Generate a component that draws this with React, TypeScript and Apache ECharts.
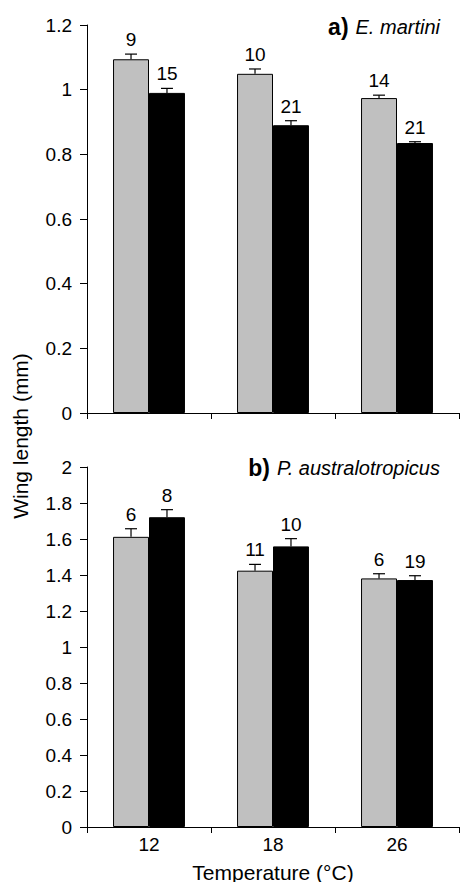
import React, { useEffect, useRef } from "react";
import * as echarts from "echarts";

const categories = ["12", "18", "26"];

// a) E. martini
const aGrey = [1.094, 1.049, 0.974];
const aGreyErr = [0.016, 0.015, 0.009];
const aGreyN = [9, 10, 14];
const aBlack = [0.99, 0.89, 0.835];
const aBlackErr = [0.014, 0.014, 0.004];
const aBlackN = [15, 21, 21];

// b) P. australotropicus
const bGrey = [1.612, 1.424, 1.381];
const bGreyErr = [0.045, 0.035, 0.026];
const bGreyN = [6, 11, 6];
const bBlack = [1.721, 1.559, 1.372];
const bBlackErr = [0.042, 0.043, 0.024];
const bBlackN = [8, 10, 19];

const yTicksA = { min: 0, max: 1.2, interval: 0.2 };
const yTicksB = { min: 0, max: 2, interval: 0.2 };

const FONT = "Liberation Sans, Arial, sans-serif";
const BAR_FRAC = 0.29;

function errData(vals: number[], errs: number[], ns: number[]) {
  return vals.map((v, i) => [i, v, v + errs[i], ns[i]]);
}

function errSeries(gridIdx: number, side: number, vals: number[], errs: number[], ns: number[]) {
  return {
    type: "custom",
    xAxisIndex: gridIdx,
    yAxisIndex: gridIdx,
    z: 10,
    encode: { x: 0, y: 2 },
    data: errData(vals, errs, ns),
    renderItem: (params: any, api: any) => {
      const cat = api.value(0);
      const base = api.coord([cat, api.value(1)]);
      const top = api.coord([cat, api.value(2)]);
      const bw = api.size([1, 0])[0] * BAR_FRAC;
      const x = base[0] + (side * bw) / 2;
      const cap = 6;
      return {
        type: "group",
        children: [
          {
            type: "line",
            shape: { x1: x, y1: base[1], x2: x, y2: top[1] },
            style: { stroke: "#000", lineWidth: 1.2 },
          },
          {
            type: "line",
            shape: { x1: x - cap, y1: top[1], x2: x + cap, y2: top[1] },
            style: { stroke: "#000", lineWidth: 1.2 },
          },
          {
            type: "text",
            x: x,
            y: top[1] - 5,
            style: {
              text: String(api.value(3)),
              fontFamily: FONT,
              fontSize: 19,
              fill: "#000",
              align: "center",
              verticalAlign: "bottom",
            },
          },
        ],
      };
    },
  };
}

function barSeries(gridIdx: number, vals: number[], color: string) {
  return {
    type: "bar",
    xAxisIndex: gridIdx,
    yAxisIndex: gridIdx,
    data: vals,
    barWidth: BAR_FRAC * 100 + "%",
    barGap: "0%",
    itemStyle: { color, borderColor: "#000", borderWidth: 1 },
  };
}

export default function App() {
  const ref = useRef<HTMLDivElement>(null);
  useEffect(() => {
    if (!ref.current) return;
    const chart = echarts.init(ref.current, null, { renderer: "svg" });
    const xAxisBase = {
      type: "category",
      data: categories,
      boundaryGap: true,
      axisLine: { show: true, lineStyle: { color: "#000", width: 1 } },
      axisTick: { show: true, length: 6, alignWithLabel: false, lineStyle: { color: "#000" } },
      splitLine: { show: false },
    };
    const yAxisBase = {
      type: "value",
      axisLine: { show: true, lineStyle: { color: "#000", width: 1 } },
      axisTick: { show: true, length: 7, lineStyle: { color: "#000" } },
      splitLine: { show: false },
      axisLabel: { fontFamily: FONT, fontSize: 19, color: "#000", margin: 15 },
    };
    const titleRich = {
      b: { fontFamily: FONT, fontSize: 23, fontWeight: "bold", fill: "#000" },
      i: { fontFamily: FONT, fontSize: 20, fontStyle: "italic", fill: "#000", padding: [0, 0, 0, 7] },
    };
    chart.setOption({
      animation: false,
      backgroundColor: "#fff",
      grid: [
        { left: 87, right: 2, top: 25, height: 388 },
        { left: 87, right: 2, top: 467, height: 360 },
      ],
      xAxis: [
        { ...xAxisBase, gridIndex: 0, axisLabel: { show: false } },
        {
          ...xAxisBase,
          gridIndex: 1,
          axisLabel: { show: true, fontFamily: FONT, fontSize: 19, color: "#000", margin: 8 },
        },
      ],
      yAxis: [
        { ...yAxisBase, gridIndex: 0, ...yTicksA },
        { ...yAxisBase, gridIndex: 1, ...yTicksB },
      ],
      series: [
        barSeries(0, aGrey, "#c0c0c0"),
        barSeries(0, aBlack, "#000000"),
        errSeries(0, -1, aGrey, aGreyErr, aGreyN),
        errSeries(0, 1, aBlack, aBlackErr, aBlackN),
        barSeries(1, bGrey, "#c0c0c0"),
        barSeries(1, bBlack, "#000000"),
        errSeries(1, -1, bGrey, bGreyErr, bGreyN),
        errSeries(1, 1, bBlack, bBlackErr, bBlackN),
      ],
      graphic: [
        {
          type: "text",
          x: 440,
          y: 27,
          style: {
            text: "{b|a)}{i|E. martini}",
            align: "right",
            verticalAlign: "middle",
            rich: titleRich,
          },
        },
        {
          type: "text",
          x: 440,
          y: 468,
          style: {
            text: "{b|b)}{i|P. australotropicus}",
            align: "right",
            verticalAlign: "middle",
            rich: titleRich,
          },
        },
        {
          type: "text",
          x: 20,
          y: 436,
          rotation: Math.PI / 2,
          style: {
            text: "Wing length (mm)",
            fontFamily: FONT,
            fontSize: 21,
            fill: "#000",
            align: "center",
            verticalAlign: "middle",
          },
        },
        {
          type: "text",
          x: 273,
          y: 872,
          style: {
            text: "Temperature (°C)",
            fontFamily: FONT,
            fontSize: 21,
            fill: "#000",
            align: "center",
            verticalAlign: "middle",
          },
        },
      ],
    });
    return () => chart.dispose();
  }, []);
  return <div ref={ref} style={{ width: 461, height: 882, position: "absolute", left: 0, top: 0 }} />;
}
